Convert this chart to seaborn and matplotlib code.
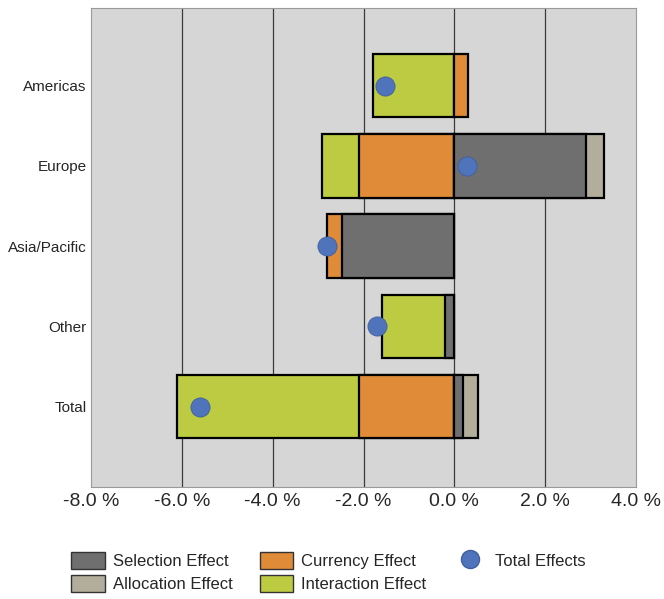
import matplotlib
matplotlib.use("Agg")
import matplotlib.pyplot as plt
import seaborn as sns
import numpy as np
import pandas as pd
from matplotlib.patches import Patch
from matplotlib.lines import Line2D

regions = ["Americas", "Europe", "Asia/Pacific", "Other", "Total"]
selection = [0.00, 2.90, -2.48, -0.20, 0.18]
allocation = [0.00, 0.40, 0.00, 0.00, 0.33]
currency = [0.29, -2.11, -0.33, 0.00, -2.11]
interaction = [-1.80, -0.81, 0.00, -1.40, -4.00]
total_effects = [-1.52, 0.28, -2.81, -1.71, -5.60]
xticks = [-8, -6, -4, -2, 0, 2, 4]

sns.set_theme(style="white")
plt.rcParams['font.family'] = ['Liberation Sans', 'DejaVu Sans']

layer_names = ["Selection Effect", "Allocation Effect", "Currency Effect", "Interaction Effect"]
layer_vals = [selection, allocation, currency, interaction]
colors = ["#6f6f6f", "#b3ae9b", "#e08b38", "#bccb42"]
dot_color = "#4f74bb"

fig = plt.figure(figsize=(6.64, 5.99), dpi=100)
ax = fig.add_axes([0.137, 0.187, 0.821, 0.800])
ax.set_facecolor("#d6d6d6")

arr = np.array(layer_vals)
pos = np.where(arr > 0, arr, 0).cumsum(axis=0)
neg = np.where(arr < 0, arr, 0).cumsum(axis=0)

for k in range(3, -1, -1):
    for cum, raw in ((pos[k], arr[k] > 0), (neg[k], arr[k] < 0)):
        df = pd.DataFrame({"region": regions, "v": np.where(raw, cum, np.nan)})
        sns.barplot(data=df, x="v", y="region", orient="h", order=regions,
                    color=colors[k], saturation=1, width=0.79,
                    edgecolor="black", linewidth=1.6, ax=ax, zorder=3)

for x in xticks[1:-1]:
    ax.axvline(x, color="#3a3a3a", lw=0.9, zorder=1)

sns.scatterplot(x=total_effects, y=regions, color=dot_color, s=190,
                edgecolor="#3f5f9f", linewidth=0.6, ax=ax, zorder=5)

ax.set_xlim(-8, 4)
ax.set_ylim(5.0, -0.97)
ax.set_xticks(xticks)
ax.set_xticklabels([f"{v:.1f} %" for v in xticks], fontsize=14)
ax.tick_params(axis="y", pad=3, length=0, labelsize=11)
ax.tick_params(axis="x", length=0, pad=4)
ax.set_xlabel("")
ax.set_ylabel("")
for s in ax.spines.values():
    s.set_color("#9a9a9a")
    s.set_linewidth(0.8)

handles = [
    Patch(facecolor=colors[0], edgecolor="#333333", label=layer_names[0]),
    Patch(facecolor=colors[1], edgecolor="#333333", label=layer_names[1]),
    Patch(facecolor=colors[2], edgecolor="#333333", label=layer_names[2]),
    Patch(facecolor=colors[3], edgecolor="#333333", label=layer_names[3]),
    Line2D([], [], marker="o", ls="", markersize=13, markerfacecolor=dot_color,
           markeredgecolor="#3f5f9f", label="Total Effects"),
]
fig.legend(handles=handles, ncol=3, loc="center left", bbox_to_anchor=(0.085, 0.045),
           frameon=False, fontsize=12,
           handlelength=2.0, handleheight=1.2,
           columnspacing=1.6, labelspacing=0.35, handletextpad=0.5)

fig.savefig("out.png", dpi=100)
